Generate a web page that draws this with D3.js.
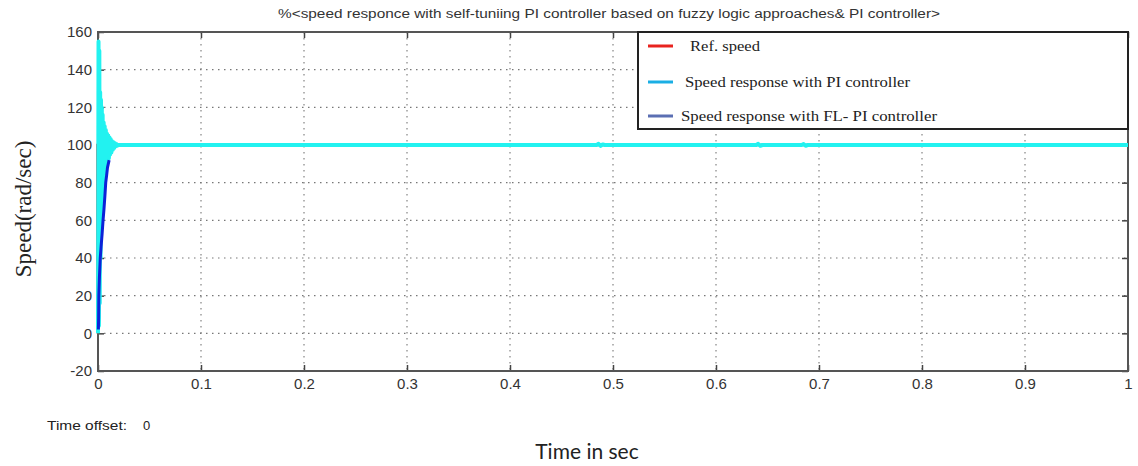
<!DOCTYPE html>
<html>
<head>
<meta charset="utf-8">
<script src="https://cdn.jsdelivr.net/npm/d3@7"></script>
<style>
  html, body { margin: 0; padding: 0; background: #fff; }
  svg { display: block; }
</style>
</head>
<body>
<svg id="chart" width="1138" height="466"></svg>
<script>
// Reference speed: step to 100 rad/s at t = 0
const refTime  = [0, 0, 1];
const refSpeed = [0, 100, 100];

// Speed response with conventional PI controller (oscillatory start, then settles at 100)
const piTime = [
  0.0000, 0.0005, 0.0009, 0.0013, 0.0017, 0.0021, 0.0025, 0.0029, 0.0033, 0.0037,
  0.0041, 0.0045, 0.0050, 0.0055, 0.0060, 0.0065, 0.0070, 0.0076, 0.0082, 0.0088,
  0.0094, 0.0100, 0.0106, 0.0112, 0.0118, 0.0124, 0.0130, 0.0137, 0.0144, 0.0151,
  0.0158, 0.0165, 0.0172, 0.0180, 0.0190, 0.0200, 0.2000, 0.4840, 0.4860, 0.4880,
  0.4900, 0.4920, 0.6390, 0.6410, 0.6430, 0.6450, 0.6830, 0.6850, 0.6870, 0.6890,
  1.0000
];
const piSpeed = [
  0, 155, 4, 150, 16, 128, 40, 124, 58, 120,
  70, 116, 78, 112, 84, 110, 88, 108, 90, 106,
  92, 105, 93, 104, 95, 103, 96, 102, 97.5, 101.5,
  98.5, 101, 99.3, 100.5, 99.7, 100, 100, 100, 100.6, 99.5,
  100.3, 100, 100, 100.6, 99.6, 100, 100, 100.5, 99.6, 100,
  100
];

// Speed response with self-tuning fuzzy-logic PI controller (smooth rise)
const flTime  = [0.0004, 0.0006, 0.0008, 0.0014, 0.0022, 0.0030, 0.0040, 0.0049, 0.0058, 0.0067, 0.0075, 0.0084, 0.0092, 0.0100, 0.0108];
const flSpeed = [2, 8, 20, 30, 40, 46, 53, 60, 66, 73, 80, 84, 88, 90, 92];

// Axis ticks
const xTicks = [0, 0.1, 0.2, 0.3, 0.4, 0.5, 0.6, 0.7, 0.8, 0.9, 1];
const xTickLabels = ["0", "0.1", "0.2", "0.3", "0.4", "0.5", "0.6", "0.7", "0.8", "0.9", "1"];
const yTicks = [-20, 0, 20, 40, 60, 80, 100, 120, 140, 160];
const yTickLabels = ["-20", "0", "20", "40", "60", "80", "100", "120", "140", "160"];

// Legend entries
const legendLabels = ["Ref. speed", "Speed response with PI controller", "Speed response with FL- PI controller"];
const legendColors = ["#e8231f", "#1aaee4", "#5b6fb3"];

const titleText = "%<speed responce with self-tuniing PI controller based on fuzzy logic approaches& PI controller>";

const svg = d3.select("#chart");
const x = d3.scaleLinear().domain([0, 1]).range([98, 1128]);
const y = d3.scaleLinear().domain([-20, 160]).range([371, 32]);

// Title
svg.append("text")
  .attr("x", 278).attr("y", 18)
  .attr("textLength", 662).attr("lengthAdjust", "spacingAndGlyphs")
  .style("font-family", "Liberation Sans, Arial, sans-serif")
  .style("font-size", "12px").style("fill", "#333")
  .text(titleText);

// Dotted grid
const grid = svg.append("g").attr("stroke", "#777").attr("stroke-width", 1.1).attr("stroke-dasharray", "1.5,4.5");
grid.selectAll("line.v").data(xTicks.slice(1, -1)).join("line")
  .attr("class", "v")
  .attr("x1", d => x(d)).attr("x2", d => x(d)).attr("y1", y(160)).attr("y2", y(-20));
grid.selectAll("line.h").data(yTicks.slice(1, -1)).join("line")
  .attr("class", "h")
  .attr("x1", x(0)).attr("x2", x(1)).attr("y1", d => y(d)).attr("y2", d => y(d));

// Axes with inward ticks
const tickFont = g => g.selectAll("text")
  .style("font-family", "Liberation Sans, Arial, sans-serif").style("font-size", "15px").style("fill", "#333");
const styleAxis = g => { g.select(".domain").remove(); g.selectAll(".tick line").attr("stroke", "#444").attr("stroke-width", 1.5); };

svg.append("g").attr("transform", `translate(0,${y(-20)})`)
  .call(d3.axisBottom(x).tickValues(xTicks).tickFormat((d, i) => xTickLabels[i]).tickSizeInner(-6).tickSizeOuter(0).tickPadding(7))
  .call(styleAxis).call(tickFont);
svg.append("g").attr("transform", `translate(0,${y(160)})`)
  .call(d3.axisTop(x).tickValues(xTicks).tickFormat("").tickSizeInner(-6).tickSizeOuter(0))
  .call(styleAxis);
svg.append("g").attr("transform", `translate(${x(0)},0)`)
  .call(d3.axisLeft(y).tickValues(yTicks).tickFormat((d, i) => yTickLabels[i]).tickSizeInner(-6).tickSizeOuter(0).tickPadding(6))
  .call(styleAxis).call(tickFont);
svg.append("g").attr("transform", `translate(${x(1)},0)`)
  .call(d3.axisRight(y).tickValues(yTicks).tickFormat("").tickSizeInner(-6).tickSizeOuter(0))
  .call(styleAxis);

// Plot frame
svg.append("rect")
  .attr("x", x(0)).attr("y", y(160)).attr("width", x(1) - x(0)).attr("height", y(-20) - y(160))
  .attr("fill", "none").attr("stroke", "#555").attr("stroke-width", 2);

// Series
const line = d3.line().x(d => x(d[0])).y(d => y(d[1]));
svg.append("clipPath").attr("id", "plotclip").append("rect")
  .attr("x", x(0) - 2).attr("y", y(160)).attr("width", x(1) - x(0) + 2).attr("height", y(-20) - y(160));
const series = svg.append("g").attr("clip-path", "url(#plotclip)");

series.append("path").datum(d3.zip(refTime, refSpeed))
  .attr("d", line).attr("fill", "none").attr("stroke", "#f03c3c").attr("stroke-width", 2.5)
  .attr("transform", "translate(-1,0)");
series.append("path").datum(d3.zip(piTime, piSpeed))
  .attr("d", line).attr("fill", "none").attr("stroke", "#22f2f0").attr("stroke-width", 4)
  .attr("stroke-linejoin", "round");
series.append("path").datum(d3.zip(flTime, flSpeed))
  .attr("d", line).attr("fill", "none").attr("stroke", "#0c22d8").attr("stroke-width", 3)
  .attr("stroke-linejoin", "round");

// Legend
const lg = svg.append("g");
lg.append("rect").attr("x", 638).attr("y", 32).attr("width", 490).attr("height", 97)
  .attr("fill", "#fff").attr("stroke", "#222").attr("stroke-width", 2);
const legendY = [46, 82, 116];
const legendTextX = [690, 685, 681];
const legendTextW = [70, 225, 256];
legendLabels.forEach((lab, i) => {
  lg.append("line").attr("x1", 648).attr("x2", 673).attr("y1", legendY[i]).attr("y2", legendY[i])
    .attr("stroke", legendColors[i]).attr("stroke-width", 3);
  lg.append("text").attr("x", legendTextX[i]).attr("y", legendY[i] + 5)
    .attr("textLength", legendTextW[i]).attr("lengthAdjust", "spacingAndGlyphs")
    .style("font-family", "Liberation Serif, Times New Roman, serif").style("font-size", "14px").style("fill", "#222")
    .text(lab);
});

// Time offset note
const note = svg.append("g")
  .style("font-family", "Liberation Sans, Arial, sans-serif").style("font-size", "13px").style("fill", "#222");
note.append("text").attr("x", 47).attr("y", 430)
  .attr("textLength", 80).attr("lengthAdjust", "spacingAndGlyphs").text("Time offset:");
note.append("text").attr("x", 143).attr("y", 430).text("0");

// Axis titles
svg.append("text").attr("x", 587).attr("y", 459).attr("text-anchor", "middle")
  .style("font-family", "Lato, Open Sans, sans-serif").style("font-size", "21px").style("fill", "#222")
  .text("Time in sec");
svg.append("text").attr("transform", "translate(31,209) rotate(-90)").attr("text-anchor", "middle")
  .style("font-family", "Liberation Serif, Times New Roman, serif").style("font-size", "23px").style("fill", "#222")
  .text("Speed(rad/sec)");
</script>
</body>
</html>
